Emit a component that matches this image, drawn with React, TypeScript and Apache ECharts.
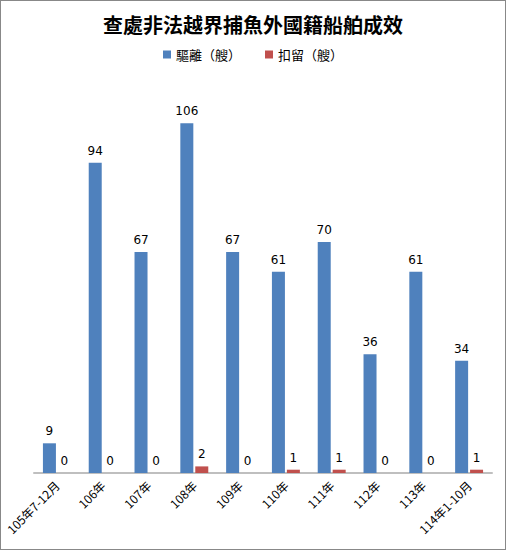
import React, { useEffect, useRef } from 'react'
import * as echarts from 'echarts'

const categories = ['105年7-12月', '106年', '107年', '108年', '109年', '110年', '111年', '112年', '113年', '114年1-10月']
const expelled = [9, 94, 67, 106, 67, 61, 70, 36, 61, 34]
const detained = [0, 0, 0, 2, 0, 1, 1, 0, 0, 1]
const seriesNames = ['驅離（艘）', '扣留（艘）']

const App: React.FC = () => {
  const chartRef = useRef<HTMLDivElement>(null)

  useEffect(() => {
    document.body.style.margin = '0'
    if (!chartRef.current) return
    const chart = echarts.init(chartRef.current, undefined, { renderer: 'svg' })

    const labelStyle = {
      show: true,
      position: 'top' as const,
      color: '#000',
      fontSize: 12,
      fontFamily: 'DejaVu Sans',
      distance: 6,
    }

    chart.setOption({
      animation: false,
      title: {
        text: '查處非法越界捕魚外國籍船舶成效',
        left: 'center',
        top: 8,
        textStyle: {
          fontSize: 20,
          fontWeight: 'bold',
          color: '#000',
          fontFamily: 'Noto Sans CJK TC',
        },
      },
      legend: {
        data: seriesNames,
        top: 42,
        left: 'center',
        itemWidth: 8,
        itemHeight: 8,
        itemGap: 24,
        icon: 'rect',
        textStyle: { fontSize: 13, color: '#000', fontFamily: 'Noto Sans CJK TC' },
      },
      grid: { left: 33, right: 13, top: 76, bottom: 76, containLabel: false },
      xAxis: {
        type: 'category',
        data: categories,
        axisLine: { lineStyle: { color: '#bfbfbf', width: 2 } },
        axisTick: { show: false },
        axisLabel: {
          rotate: 45,
          interval: 0,
          fontSize: 12,
          color: '#000',
          margin: 10,
          fontFamily: 'Noto Sans CJK TC',
        },
      },
      yAxis: {
        type: 'value',
        min: 0,
        max: 120,
        show: false,
        splitLine: { show: false },
      },
      series: [
        {
          name: seriesNames[0],
          type: 'bar',
          data: expelled,
          barWidth: 13,
          barGap: '15%',
          itemStyle: { color: '#4F81BD' },
          label: labelStyle,
        },
        {
          name: seriesNames[1],
          type: 'bar',
          data: detained,
          barWidth: 13,
          barGap: '15%',
          itemStyle: { color: '#C0504D' },
          label: labelStyle,
        },
      ],
    })

    return () => {
      chart.dispose()
    }
  }, [])

  return (
    <div
      style={{
        width: 506,
        height: 550,
        boxSizing: 'border-box',
        border: '1px solid #888',
        background: '#fff',
      }}
    >
      <div ref={chartRef} style={{ width: 504, height: 548 }} />
    </div>
  )
}

export default App
